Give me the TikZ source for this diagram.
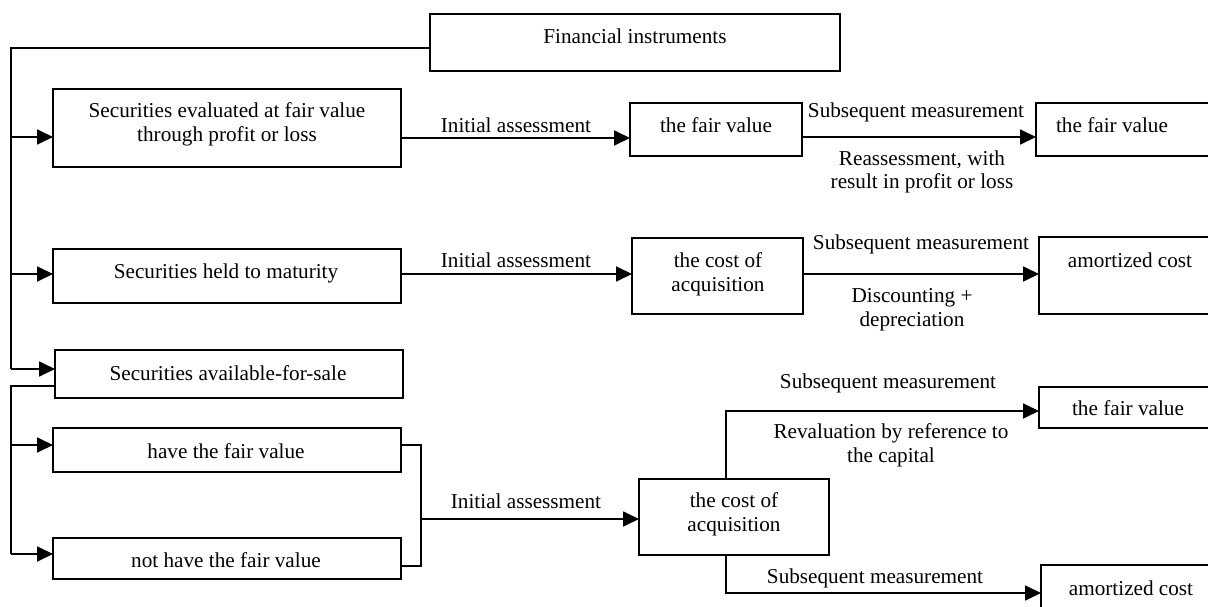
\documentclass[tikz,border=0pt]{standalone}
\usepackage{fontspec}
\setmainfont{Liberation Serif}
\usetikzlibrary{arrows.meta}
\begin{document}
\begin{tikzpicture}[x=1pt,y=-1pt,
  box/.style={draw, line width=1.8pt, inner sep=0pt, outer sep=0pt, anchor=north west},
  txt/.style={anchor=base, align=center, inner sep=0pt, font=\fontsize{21.2}{24}\selectfont},
  ln/.style={line width=1.8pt},
  arr/.style={line width=1.8pt, -{Triangle[length=16pt,width=15pt]}}]
\path[use as bounding box] (0,0) rectangle (1208,607);
\clip (0,0) rectangle (1208,607);
% boxes
\node[box, minimum width=410pt, minimum height=57pt] (fi) at (430,14) {};
\node[box, minimum width=348pt, minimum height=78pt] (b1) at (53,89) {};
\node[box, minimum width=348pt, minimum height=54pt] (b2) at (53,249) {};
\node[box, minimum width=348pt, minimum height=48pt] (b3) at (55,350) {};
\node[box, minimum width=348pt, minimum height=44pt] (b4) at (53,428) {};
\node[box, minimum width=348pt, minimum height=41pt] (b5) at (53,538) {};
\node[box, minimum width=172pt, minimum height=53pt] (fv1) at (630,103) {};
\node[box, minimum width=171pt, minimum height=76pt] (c2) at (632,238) {};
\node[box, minimum width=190pt, minimum height=53pt] (fv2) at (1036,103) {};
\node[box, minimum width=190pt, minimum height=77pt] (a2) at (1039,237) {};
\node[box, minimum width=190pt, minimum height=76pt] (c3) at (639,479) {};
\node[box, minimum width=190pt, minimum height=41pt] (fv3) at (1039,387) {};
\node[box, minimum width=190pt, minimum height=60pt] (a3) at (1041,565) {};
% box texts (anchor=base is the baseline of the last line)
\node[txt] (tfi) at (635,44) {Financial instruments};
\node[txt] (tb1) at (227,142) {Securities evaluated at fair value\\through profit or loss};
\node[txt] (tb2) at (226,278) {Securities held to maturity};
\node[txt] (tb3) at (228,380) {Securities available-for-sale};
\node[txt] (tb4) at (226,458) {have the fair value};
\node[txt] (tb5) at (226,567) {not have the fair value};
\node[txt] (tfv1) at (716,133) {the fair value};
\node[txt] (tc2) at (718,291) {the cost of\\acquisition};
\node[txt] (tfv2) at (1112,133) {the fair value};
\node[txt] (ta2) at (1130,267) {amortized cost};
\node[txt] (tc3) at (734,531) {the cost of\\acquisition};
\node[txt] (tfv3) at (1128,415) {the fair value};
\node[txt] (ta3) at (1131,595) {amortized cost};
% connector labels
\node[txt] (ia1) at (516,133) {Initial assessment};
\node[txt] (ia2) at (516,267) {Initial assessment};
\node[txt] (ia3) at (526,508) {Initial assessment};
\node[txt] (sm1) at (916,118) {Subsequent measurement};
\node[txt] (sm2) at (921,249) {Subsequent measurement};
\node[txt] (sm3) at (888,388) {Subsequent measurement};
\node[txt] (sm4) at (875,583) {Subsequent measurement};
\node[txt] (re) at (922,189) {Reassessment, with\\result in profit or loss};
\node[txt] (di) at (912,326) {Discounting +\\depreciation};
\node[txt] (rv) at (891,462) {Revaluation by reference to\\the capital};
% trunk coordinates
\coordinate (j1) at (11,137);
\coordinate (j2) at (11,274);
\coordinate (j3) at (11,369);
\coordinate (k1) at (11,445);
\coordinate (k2) at (11,554);
\coordinate (br1) at (421,445);
\coordinate (br2) at (421,566);
\coordinate (br3) at (421,519);
% left trunk
\draw[ln] (fi.west |- 0,48) -| (j3);
\draw[arr] (j1) -- (b1.west |- j1);
\draw[arr] (j2) -- (b2.west |- j2);
\draw[arr] (j3) -- (b3.west |- j3);
\draw[ln] (b3.west |- 0,386) -| (k2);
\draw[arr] (k1) -- (b4.west |- k1);
\draw[arr] (k2) -- (b5.west |- k2);
% bracket
\draw[ln] (b4.east |- br1) -- (br1) -- (br2) -- (b5.east |- br2);
\draw[arr] (br3) -- (c3.west |- br3);
% rows
\draw[arr] (b1.east |- 0,138) -- (fv1.west |- 0,138);
\draw[arr] (fv1.east |- 0,137) -- (fv2.west |- 0,137);
\draw[arr] (b2.east |- 0,274) -- (c2.west |- 0,274);
\draw[arr] (c2.east |- 0,274) -- (a2.west |- 0,274);
\draw[arr] (c3.north -| 726,0) |- (fv3.west |- 0,411);
\draw[arr] (c3.south -| 726,0) |- (a3.west |- 0,593);
\end{tikzpicture}
\end{document}
